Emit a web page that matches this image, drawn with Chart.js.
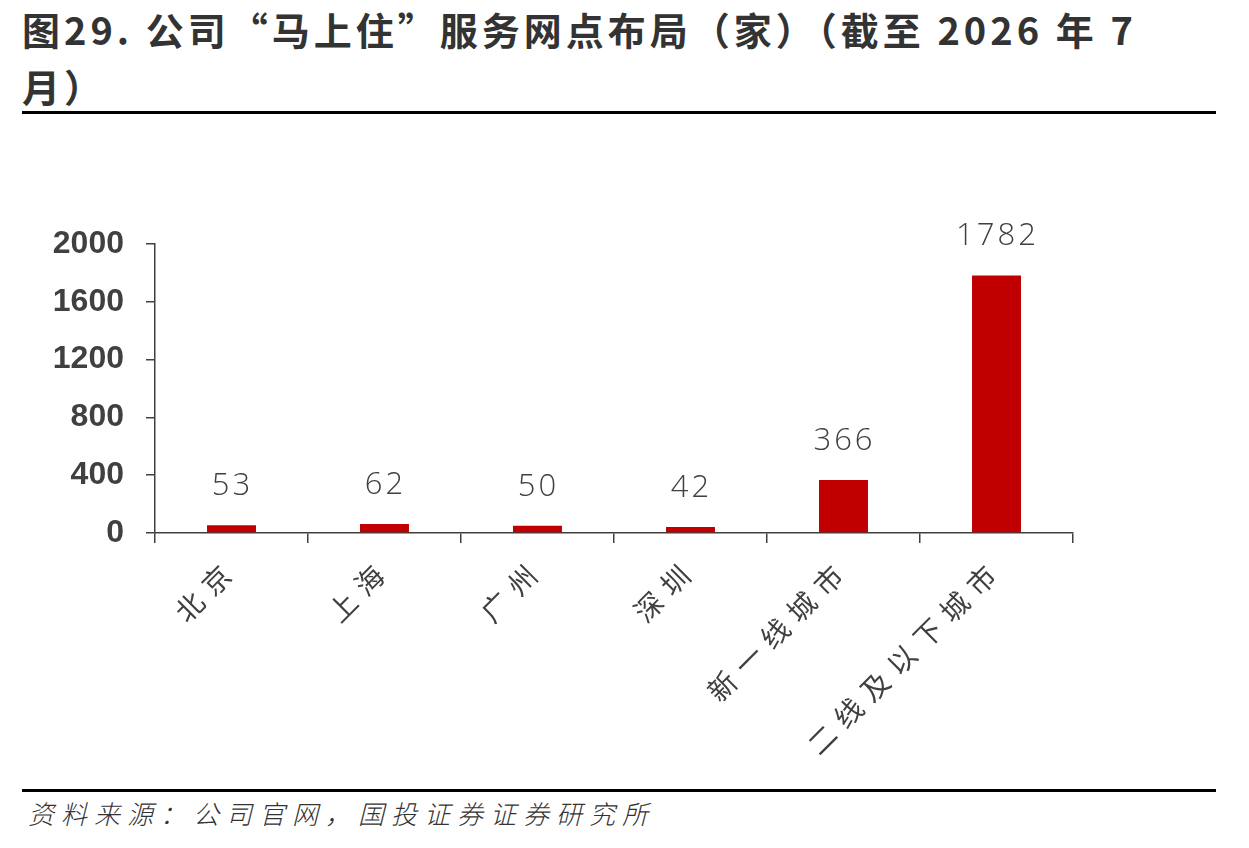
<!DOCTYPE html>
<html>
<head>
<meta charset="utf-8">
<script src="https://cdn.jsdelivr.net/npm/chart.js@4"></script>
<style>
  body { margin: 0; background: #fff; width: 1249px; height: 848px; position: relative; overflow: hidden; }
  #title { position: absolute; left: 22px; top: 0px; font-family: "Noto Sans CJK SC"; font-weight: bold; font-size: 38px; line-height: 57px; color: #333; letter-spacing: 4px; white-space: nowrap; }
  #rule1 { position: absolute; left: 22px; top: 111px; width: 1194px; height: 3px; background: #000; }
  #rule2 { position: absolute; left: 22px; top: 789px; width: 1194px; height: 3px; background: #000; }
  #source { position: absolute; left: 28px; top: 794px; font-family: "Noto Sans CJK SC"; font-style: italic; font-weight: 300; font-size: 26px; color: #333; letter-spacing: 7px; white-space: nowrap; }
  #wrap { position: absolute; left: 0; top: 130px; width: 1249px; height: 650px; }
</style>
</head>
<body>
<div id="title">图29. 公司“马上住”服务网点布局（家）（截至 2026 年 7<br>月）</div>
<div id="rule1"></div>
<div id="wrap"><canvas id="chart"></canvas></div>
<div id="rule2"></div>
<div id="source">资料来源：公司官网，国投证券证券研究所</div>
<script>
const categories = ["北京", "上海", "广州", "深圳", "新一线城市", "二线及以下城市"];
const outlets = [53, 62, 50, 42, 366, 1782];
const yTicks = [0, 400, 800, 1200, 1600, 2000];

const ctx = document.getElementById("chart");

// value labels above bars + spaced, rotated category labels
const labelsPlugin = {
  id: "labelsPlugin",
  afterDatasetsDraw(chart) {
    const c = chart.ctx;
    const meta = chart.getDatasetMeta(0);
    c.save();
    c.fillStyle = "#404040";
    c.font = "300 31px 'Open Sans'";
    c.textAlign = "center";
    c.textBaseline = "middle";
    if ("letterSpacing" in c) c.letterSpacing = "3px";
    meta.data.forEach((bar, i) => {
      c.fillText(String(outlets[i]), bar.x + 1, bar.y - 39);
    });
    c.restore();

    const xs = chart.scales.x;
    c.save();
    c.fillStyle = "#404040";
    c.font = "28px 'Noto Sans CJK SC'";
    c.textAlign = "right";
    c.textBaseline = "middle";
    if ("letterSpacing" in c) c.letterSpacing = "9.5px";
    categories.forEach((lab, i) => {
      const x = xs.getPixelForTick(i);
      c.save();
      c.translate(x - 5, xs.top + 37);
      c.rotate(-Math.PI / 4);
      c.fillText(lab, 9, 0);
      c.restore();
    });
    c.restore();
  }
};

new Chart(ctx, {
  type: "bar",
  data: {
    labels: categories,
    datasets: [
      {
        data: outlets,
        backgroundColor: "#C00000",
        barPercentage: 0.32,
        categoryPercentage: 1,
      },
    ],
  },
  options: {
    responsive: true,
    maintainAspectRatio: false,
    animation: false,
    layout: {
      padding: { left: 0, right: 176, top: 114, bottom: 0 },
    },
    plugins: {
      legend: { display: false },
      tooltip: { enabled: false },
    },
    scales: {
      x: {
        afterFit(s) { s.height = 247; },
        border: { color: "#404040", width: 1.5 },
        grid: {
          offset: true,
          drawOnChartArea: false,
          tickLength: 10,
          color: "#404040",
          lineWidth: 1.5,
        },
        ticks: { display: false },
      },
      y: {
        min: 0,
        max: 2000,
        afterFit(s) { s.width = 155; },
        afterBuildTicks(s) { s.ticks = yTicks.map(v => ({ value: v })); },
        border: { color: "#404040", width: 1.5 },
        grid: {
          drawOnChartArea: false,
          tickLength: 9,
          color: "#404040",
          lineWidth: 1.5,
        },
        ticks: {
          color: "#404040",
          padding: 22,
          callback: v => String(v),
          font: { family: "'Liberation Sans'", size: 32, weight: "bold" },
        },
      },
    },
  },
  plugins: [labelsPlugin],
});
</script>
</body>
</html>
